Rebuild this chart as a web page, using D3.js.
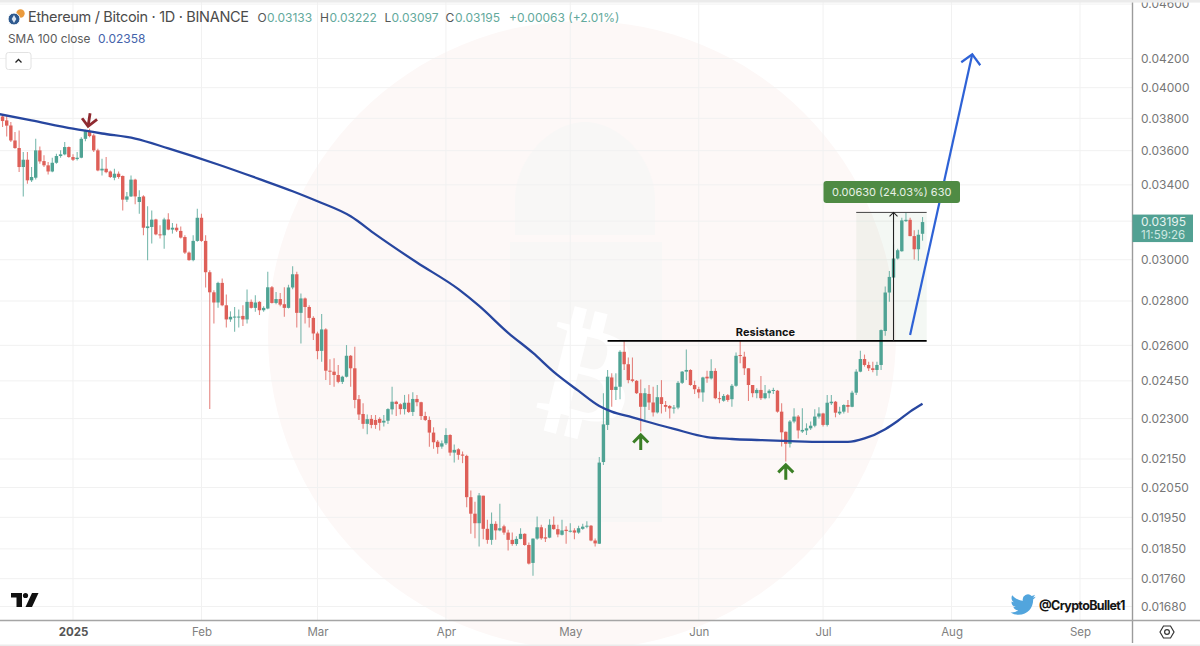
<!DOCTYPE html>
<html>
<head>
<meta charset="utf-8">
<script src="https://cdnjs.cloudflare.com/ajax/libs/d3/7.8.5/d3.min.js"></script>
<style>
  html, body { margin: 0; padding: 0; background: #fff; overflow: hidden; }
  svg { display: block; font-family: Inter, Roboto, sans-serif; }
</style>
</head>
<body>
<script>
const firstCandle = '2024-12-15';
const opens = [
.03812,.03787,.03755,.03662,.03616,.03503,.03546,.03426,.03441,.03602,
.03538,.03513,.03477,.03528,.03568,.03578,.03622,.03562,.03550,.03558,
.03672,.03720,.03693,.03602,.03483,.03493,.03477,.03441,.03464,.03451,
.03317,.03335,.03430,.03304,.03335,.03163,.03169,.03209,.03130,.03125,
.03209,.03155,.03165,.03148,.03116,.03036,.02998,.03096,.03218,.03096,
.02938,.02841,.02793,.02886,.02780,.02715,.02724,.02724,.02731,.02715,
.02796,.02768,.02796,.02757,.02765,.02865,.02791,.02809,.02785,.02768,
.02864,.02928,.02745,.02812,.02772,.02722,.02652,.02576,.02670,.02492,
.02488,.02474,.02446,.02467,.02555,.02502,.02376,.02318,.02280,.02299,
.02295,.02299,.02285,.02292,.02336,.02366,.02356,.02337,.02362,.02326,
.02377,.02364,.02310,.02295,.02247,.02213,.02195,.02207,.02238,.02173,
.02185,.02166,.02161,.02017,.01962,.01931,.02022,.01913,.01878,.01929,
.01908,.01921,.01901,.01878,.01865,.01881,.01897,.01862,.01807,.01882,
.01918,.01886,.01885,.01926,.01912,.01894,.01910,.01904,.01908,.01901,
.01913,.01920,.01923,.01876,.01866,.02139,.02276,.02464,.02413,.02426,
.02572,.02519,.02456,.02450,.02400,.02346,.02397,.02363,.02324,.02384,
.02353,.02349,.02340,.02343,.02442,.02488,.02495,.02433,.02416,.02403,
.02467,.02460,.02491,.02380,.02370,.02392,.02376,.02430,.02558,.02551,
.02502,.02433,.02400,.02413,.02380,.02400,.02409,.02410,.02327,.02250,
.02205,.02289,.02308,.02251,.02255,.02263,.02273,.02308,.02320,.02276,
.02360,.02366,.02320,.02327,.02353,.02346,.02402,.02488,.02541,.02516,
.02502,.02495,.02516,.02663,.02840,.02912,.03006,.03043,.03200,.03207,
.03121,.03053,.03133
];
const highs = [
.03825,.03819,.03777,.03714,.03724,.03592,.03592,.03503,.03672,.03626,
.03572,.03532,.03558,.03582,.03602,.03652,.03625,.03578,.03592,.03682,
.03728,.03734,.03703,.03612,.03552,.03562,.03483,.03493,.03477,.03454,
.03360,.03454,.03435,.03369,.03341,.03280,.03258,.03213,.03178,.03218,
.03243,.03190,.03186,.03172,.03125,.03041,.03125,.03267,.03240,.03125,
.02948,.02851,.02891,.02907,.02830,.02752,.02772,.02760,.02780,.02854,
.02807,.02827,.02799,.02775,.02940,.02871,.02843,.02838,.02865,.02877,
.02968,.02940,.02835,.02816,.02780,.02730,.02660,.02740,.02675,.02540,
.02544,.02516,.02471,.02601,.02558,.02594,.02393,.02360,.02316,.02314,
.02314,.02305,.02314,.02340,.02426,.02370,.02360,.02393,.02396,.02404,
.02393,.02366,.02327,.02308,.02267,.02219,.02217,.02263,.02241,.02203,
.02189,.02177,.02165,.02040,.02002,.02031,.02022,.01942,.01966,.01937,
.01995,.01926,.01910,.01901,.01889,.01915,.01899,.01870,.01882,.01953,
.01926,.01915,.01944,.01953,.01926,.01942,.01921,.01931,.01915,.01923,
.01929,.01937,.01925,.01882,.02157,.02400,.02495,.02481,.02481,.02579,
.02623,.02548,.02548,.02453,.02456,.02420,.02433,.02426,.02433,.02453,
.02369,.02353,.02353,.02449,.02491,.02582,.02498,.02450,.02426,.02467,
.02492,.02540,.02502,.02406,.02397,.02397,.02437,.02569,.02620,.02572,
.02502,.02433,.02420,.02470,.02433,.02416,.02422,.02413,.02360,.02251,
.02295,.02340,.02314,.02340,.02282,.02289,.02336,.02344,.02323,.02393,
.02393,.02369,.02346,.02356,.02373,.02410,.02498,.02576,.02560,.02530,
.02530,.02530,.02670,.02869,.02944,.03079,.03056,.03218,.03245,.03218,
.03151,.03154,.03222
];
const lows = [
.03745,.03687,.03652,.03612,.03474,.03335,.03407,.03416,.03430,.03522,
.03503,.03460,.03473,.03522,.03558,.03572,.03558,.03538,.03542,.03555,
.03658,.03682,.03592,.03479,.03454,.03467,.03439,.03426,.03435,.03258,
.03304,.03332,.03291,.03240,.03125,.02998,.03082,.03125,.03108,.03056,
.03151,.03134,.03142,.03108,.03029,.02995,.02993,.03091,.03091,.02864,
.02337,.02697,.02769,.02775,.02679,.02704,.02660,.02679,.02685,.02697,
.02765,.02750,.02735,.02750,.02762,.02788,.02785,.02775,.02727,.02765,
.02856,.02679,.02608,.02697,.02679,.02623,.02540,.02530,.02453,.02433,
.02426,.02440,.02437,.02464,.02426,.02340,.02295,.02261,.02241,.02263,
.02261,.02255,.02270,.02279,.02316,.02310,.02316,.02316,.02322,.02310,
.02348,.02295,.02291,.02194,.02187,.02169,.02187,.02201,.02162,.02137,
.02147,.02135,.01983,.01897,.01883,.01857,.01880,.01866,.01863,.01878,
.01905,.01894,.01845,.01860,.01860,.01880,.01860,.01802,.01769,.01878,
.01878,.01871,.01883,.01910,.01886,.01892,.01866,.01901,.01880,.01897,
.01910,.01915,.01874,.01857,.01865,.02128,.02257,.02346,.02373,.02376,
.02495,.02440,.02444,.02397,.02251,.02295,.02333,.02308,.02320,.02320,
.02327,.02301,.02320,.02336,.02437,.02453,.02430,.02397,.02380,.02366,
.02442,.02456,.02376,.02360,.02366,.02366,.02346,.02426,.02523,.02474,
.02369,.02384,.02380,.02373,.02376,.02380,.02397,.02323,.02195,.02141,
.02192,.02282,.02225,.02245,.02238,.02257,.02267,.02301,.02270,.02270,
.02353,.02305,.02314,.02320,.02323,.02344,.02393,.02485,.02509,.02491,
.02485,.02471,.02495,.02642,.02796,.02907,.03001,.03040,.03195,.03120,
.03001,.02995,.03097
];
const closes = [
.03783,.03754,.03662,.03616,.03503,.03546,.03426,.03445,.03602,.03536,
.03513,.03477,.03528,.03568,.03578,.03622,.03562,.03546,.03558,.03672,
.03720,.03689,.03602,.03483,.03493,.03473,.03445,.03464,.03445,.03317,
.03335,.03430,.03335,.03332,.03165,.03172,.03208,.03130,.03125,.03209,
.03155,.03165,.03151,.03113,.03036,.02998,.03096,.03218,.03096,.02938,
.02841,.02793,.02886,.02780,.02715,.02727,.02728,.02728,.02715,.02796,
.02768,.02793,.02757,.02768,.02865,.02791,.02809,.02783,.02768,.02864,
.02928,.02745,.02812,.02772,.02722,.02652,.02575,.02670,.02492,.02488,
.02474,.02446,.02467,.02555,.02502,.02373,.02316,.02280,.02298,.02276,
.02276,.02284,.02292,.02337,.02366,.02357,.02337,.02362,.02326,.02377,
.02364,.02310,.02295,.02247,.02211,.02193,.02207,.02238,.02173,.02183,
.02165,.02162,.02017,.01962,.01931,.02023,.01913,.01878,.01929,.01908,
.01915,.01901,.01878,.01865,.01881,.01897,.01862,.01805,.01882,.01918,
.01883,.01882,.01926,.01912,.01895,.01908,.01906,.01907,.01901,.01915,
.01920,.01923,.01876,.01867,.02137,.02278,.02467,.02413,.02426,.02572,
.02519,.02453,.02450,.02400,.02346,.02400,.02363,.02324,.02384,.02357,
.02346,.02340,.02343,.02442,.02488,.02495,.02433,.02416,.02403,.02464,
.02460,.02491,.02380,.02376,.02389,.02373,.02430,.02555,.02554,.02502,
.02433,.02400,.02413,.02380,.02400,.02410,.02413,.02327,.02248,.02205,
.02289,.02308,.02255,.02257,.02263,.02273,.02308,.02320,.02276,.02362,
.02366,.02323,.02327,.02353,.02346,.02402,.02488,.02541,.02516,.02502,
.02495,.02516,.02667,.02840,.02915,.03006,.03048,.03204,.03207,.03121,
.03053,.03128,.03195
];

const smaDates = ['2024-12-14','2024-12-22','2025-01-01','2025-01-08','2025-01-16','2025-01-24','2025-02-05','2025-02-15','2025-02-23','2025-03-01','2025-03-09','2025-03-15','2025-03-25','2025-04-04','2025-04-09','2025-04-16','2025-04-22','2025-04-27','2025-05-03','2025-05-08','2025-05-11','2025-05-16','2025-05-19','2025-05-26','2025-06-03','2025-06-09','2025-06-16','2025-06-23','2025-07-01','2025-07-07','2025-07-11','2025-07-16','2025-07-19','2025-07-22','2025-07-25'];
const smaValues = [.03828,.03787,.03735,.03705,.03674,.03614,.03518,.03433,.03364,.03308,.03226,.03130,.02986,.02856,.02777,.02655,.02567,.02487,.02409,.02349,.02327,.02305,.02291,.02261,.02230,.02223,.02219,.02215,.02212,.02212,.02225,.02260,.02291,.02327,.02358];

const priceTicks = [.046,.042,.04,.038,.036,.034,.03,.028,.026,.0245,.023,.0215,.0205,.0195,.0185,.0176,.0168];
const gridPrices = priceTicks.concat([.032]);
const monthDates = ['2025-01-01','2025-02-01','2025-03-01','2025-04-01','2025-05-01','2025-06-01','2025-07-01','2025-08-01','2025-09-01'];
const monthLabels = ['2025','Feb','Mar','Apr','May','Jun','Jul','Aug','Sep'];

const legendLabels = ['O','H','L','C'];
const legendValues = ['0.03133','0.03222','0.03097','0.03195'];

const resistancePrice = .02619;
const resistanceDates = ['2025-05-10','2025-07-26'];
const measureTop = .03247;
const measureDates = ['2025-07-09','2025-07-26'];
const measureArrowDate = '2025-07-18';
const projDates = ['2025-07-22','2025-08-06'];
const projPrices = [.02645,.04230];
const greenArrowDates = ['2025-05-18','2025-06-22'];
const greenArrowPrices = [.02238,.02129];

const w = 1200;
const h = 646;
const axisX = 1132.5;
const axisY = 620.5;
const parse = d3.utcParse('%Y-%m-%d');

const xScale = d3.scaleUtc().domain([parse('2025-01-01'), parse('2025-09-01')]).range([73, 1080]);
const yScale = d3.scaleLog().domain([.0168, .042]).range([606.5, 58.5]);

const candles = opens.map((o, i) => ({
  date: d3.utcDay.offset(parse(firstCandle), i), o: o, h: highs[i], l: lows[i], c: closes[i]
}));

const svg = d3.select('body').append('svg').attr('width', w).attr('height', h);
const defs = svg.append('defs');
defs.append('clipPath').attr('id', 'pane').append('rect').attr('x', 0).attr('y', 0).attr('width', axisX).attr('height', axisY);

svg.append('rect').attr('width', w).attr('height', h).attr('fill', '#fff');

// background watermark
const mark = svg.append('g').attr('clip-path', 'url(#pane)');
svg.insert('circle', 'g').attr('cx', 582).attr('cy', 335).attr('r', 314).attr('fill', '#fdf8f7');
mark.append('path')
    .attr('d', 'M515,235 L515,200 C515,160 550,122 585,122 C620,122 655,160 655,200 L655,235 Z')
    .attr('fill', '#f8f7f6');
mark.append('rect').attr('x', 510).attr('y', 242).attr('width', 152).attr('height', 280).attr('fill', '#f8f7f6');
mark.append('text').text('\u20BF')
    .attr('transform', 'translate(578,418) rotate(14)')
    .attr('text-anchor', 'middle')
    .style('font-family', "'DejaVu Sans'").style('font-weight', 'bold').style('font-size', '135px')
    .attr('fill', '#fff');

// grid
const grid = svg.append('g').attr('clip-path', 'url(#pane)');
grid.selectAll('.h').data(gridPrices).enter().append('line')
    .attr('x1', 0).attr('x2', axisX)
    .attr('y1', d => yScale(d)).attr('y2', d => yScale(d))
    .attr('stroke', '#f1f1f1').attr('stroke-width', 1);
grid.selectAll('.v').data(monthDates).enter().append('line')
    .attr('x1', d => xScale(parse(d))).attr('x2', d => xScale(parse(d)))
    .attr('y1', 0).attr('y2', axisY)
    .attr('stroke', '#f1f1f1').attr('stroke-width', 1);

const chart = svg.append('g').attr('clip-path', 'url(#pane)');

// measure tool background
chart.append('rect')
    .attr('x', xScale(parse(measureDates[0]))).attr('y', yScale(measureTop))
    .attr('width', xScale(parse(measureDates[1])) - xScale(parse(measureDates[0])))
    .attr('height', yScale(resistancePrice) - yScale(measureTop))
    .attr('fill', '#4c8c46').attr('fill-opacity', 0.06);

// candles
const up = '#4fa394';
const down = '#de5f58';
chart.selectAll('.wick').data(candles).enter().append('line')
    .attr('x1', d => xScale(d.date)).attr('x2', d => xScale(d.date))
    .attr('y1', d => yScale(d.h)).attr('y2', d => yScale(d.l))
    .attr('stroke', d => d.c >= d.o ? up : down)
    .attr('stroke-opacity', 0.75)
    .attr('stroke-width', 1.1);
chart.selectAll('.body').data(candles).enter().append('rect')
    .attr('x', d => xScale(d.date) - 1.7)
    .attr('width', 3.4)
    .attr('y', d => yScale(Math.max(d.o, d.c)))
    .attr('height', d => Math.max(1, Math.abs(yScale(d.o) - yScale(d.c))))
    .attr('fill', d => d.c >= d.o ? up : down);

// SMA 100
const smaLine = d3.line().x(d => xScale(parse(d[0]))).y(d => yScale(d[1])).curve(d3.curveMonotoneX);
chart.append('path')
    .attr('d', smaLine(smaDates.map((d, i) => [d, smaValues[i]])))
    .attr('fill', 'none').attr('stroke', '#27469f').attr('stroke-width', 2.3);

// resistance
chart.append('line')
    .attr('x1', xScale(parse(resistanceDates[0]))).attr('x2', xScale(parse(resistanceDates[1])))
    .attr('y1', yScale(resistancePrice)).attr('y2', yScale(resistancePrice))
    .attr('stroke', '#000').attr('stroke-width', 1.8);
chart.append('text').text('Resistance')
    .attr('x', 765.5).attr('y', yScale(resistancePrice) - 5)
    .attr('text-anchor', 'middle')
    .style('font-size', '11px').style('font-weight', '700').attr('fill', '#111');

// measure tool
chart.append('line')
    .attr('x1', xScale(parse(measureDates[0]))).attr('x2', xScale(parse(measureDates[1])))
    .attr('y1', yScale(measureTop)).attr('y2', yScale(measureTop))
    .attr('stroke', '#444').attr('stroke-width', 1);
const mx = xScale(parse(measureArrowDate));
chart.append('line')
    .attr('x1', mx).attr('x2', mx)
    .attr('y1', yScale(resistancePrice)).attr('y2', yScale(measureTop))
    .attr('stroke', '#222').attr('stroke-width', 1.1);
chart.append('path')
    .attr('d', d3.line()([[mx - 4, yScale(measureTop) + 4], [mx, yScale(measureTop)], [mx + 4, yScale(measureTop) + 4]]))
    .attr('fill', 'none').attr('stroke', '#222').attr('stroke-width', 1.1);

// projection arrow
const px0 = xScale(parse(projDates[0])), px1 = xScale(parse(projDates[1]));
const py0 = yScale(projPrices[0]), py1 = yScale(projPrices[1]);
chart.append('line')
    .attr('x1', px0).attr('y1', py0).attr('x2', px1).attr('y2', py1)
    .attr('stroke', '#2e62d6').attr('stroke-width', 2.2);
chart.append('path')
    .attr('d', d3.line()([[px1 - 11, py1 + 8], [px1, py1], [px1 + 8, py1 + 11]]))
    .attr('fill', 'none').attr('stroke', '#2e62d6').attr('stroke-width', 2.2);

// measure label sits over the projection line
chart.append('rect')
    .attr('x', 823.5).attr('y', 181).attr('width', 136.5).attr('height', 22).attr('rx', 3)
    .attr('fill', '#4f8b44');
chart.append('text').text('0.00630 (24.03%) 630')
    .attr('x', 891.7).attr('y', 196).attr('text-anchor', 'middle')
    .style('font-size', '11px').attr('fill', '#e8f1e6');

// green arrows under the two lows
greenArrowDates.forEach((d, i) => {
  const ax = xScale(parse(d));
  const ay = yScale(greenArrowPrices[i]);
  chart.append('path')
      .attr('d', `M${ax},${ay} V${ay + 15} M${ax - 7.5},${ay + 7.5} L${ax},${ay} L${ax + 7.5},${ay + 7.5}`)
      .attr('fill', 'none').attr('stroke', '#3b7f26').attr('stroke-width', 3);
});

// red arrow on the top
const rx = xScale(parse('2025-01-05')) - 1.5;
const ry = yScale(.03750);
chart.append('path')
    .attr('d', `M${rx + 2},${ry - 13} L${rx},${ry} M${rx - 6},${ry - 8} L${rx},${ry} L${rx + 9},${ry - 7}`)
    .attr('fill', 'none').attr('stroke', '#8f2a30').attr('stroke-width', 2.8);

// axes
const yAxis = d3.axisRight(yScale).tickValues(priceTicks).tickFormat(d3.format('.5f')).tickSize(0).tickPadding(8.5);
const yg = svg.append('g').attr('transform', `translate(${axisX},0)`).call(yAxis);
yg.select('.domain').remove();
yg.selectAll('text').style('font-family', 'Inter, Roboto, sans-serif').style('font-size', '12px').attr('fill', '#777');

const xAxis = d3.axisBottom(xScale).tickValues(monthDates.map(parse)).tickFormat((d, i) => monthLabels[i]).tickSize(0).tickPadding(7);
const xg = svg.append('g').attr('transform', `translate(0,${axisY})`).call(xAxis);
xg.select('.domain').remove();
xg.selectAll('text').style('font-family', 'Inter, Roboto, sans-serif').style('font-size', '11.5px').attr('fill', '#808080');
xg.selectAll('text').filter((d, i) => i === 0).style('font-weight', '700').attr('fill', '#555');

svg.append('line').attr('x1', axisX).attr('x2', axisX).attr('y1', 0).attr('y2', 643).attr('stroke', '#9b9b9b').attr('stroke-width', 1.4);
svg.append('line').attr('x1', 0).attr('x2', w).attr('y1', axisY).attr('y2', axisY).attr('stroke', '#a5a5a5').attr('stroke-width', 1.4);

// last price label
const lastY = yScale(closes[closes.length - 1]);
svg.append('rect').attr('x', axisX).attr('y', lastY - 7.5).attr('width', 60.5).attr('height', 27.5).attr('fill', '#52a193');
svg.append('text').text('0.03195').attr('x', 1141).attr('y', lastY + 4.2).style('font-size', '12px').attr('fill', '#e6f3f0');
svg.append('text').text('11:59:26').attr('x', 1141).attr('y', lastY + 16.5).style('font-size', '11.5px').attr('fill', '#cfe8e2');

// top and bottom window edges
svg.append('rect').attr('width', w).attr('height', 2.6).attr('fill', '#ebebeb');
svg.append('rect').attr('y', 644.5).attr('width', w).attr('height', 1.5).attr('fill', '#ebebeb');

// legend
svg.append('circle').attr('cx', 20.5).attr('cy', 13.5).attr('r', 4.2).attr('fill', '#ea9a3c');
svg.append('circle').attr('cx', 14).attr('cy', 19).attr('r', 6).attr('stroke', '#fff').attr('fill', '#2f5a8f');
svg.append('path').attr('d', 'M14,15 L16.3,19 L14,23 L11.7,19 Z').attr('fill', '#dfe8f4');
svg.append('text').text('Ethereum / Bitcoin \u00B7 1D \u00B7 BINANCE')
    .attr('x', 28).attr('y', 22).attr('textLength', 221)
    .style('font-size', '14.5px').attr('fill', '#4b4b4b');
const legendX = [257.5, 320, 384.5, 445.5];
legendLabels.forEach((t, i) => {
  svg.append('text').text(t).attr('x', legendX[i]).attr('y', 21.5).style('font-size', '12px').attr('fill', '#555');
  svg.append('text').text(legendValues[i]).attr('x', legendX[i] + (i === 2 ? 7 : 9.5)).attr('y', 21.5).style('font-size', '12px').attr('fill', '#63a99c');
});
svg.append('text').text('+0.00063 (+2.01%)').attr('x', 509).attr('y', 21.5).style('font-size', '12px').attr('fill', '#63a99c');
svg.append('text').text('SMA 100 close').attr('x', 8).attr('y', 43).style('font-size', '11.8px').attr('fill', '#5a5a5a');
svg.append('text').text('0.02358').attr('x', 98).attr('y', 43).style('font-size', '12px').attr('fill', '#4463ab');

svg.append('rect').attr('x', 6).attr('y', 52.5).attr('width', 25).attr('height', 17).attr('rx', 2.5)
    .attr('fill', '#fff').attr('stroke', '#e2e2e2');
svg.append('path').attr('d', 'M15.5,62.5 L18.5,59.5 L21.5,62.5').attr('fill', 'none').attr('stroke', '#222').attr('stroke-width', 1.3);

// TradingView mark
svg.append('path').attr('d', 'M11,593 H22 V607 H16.5 V597.5 H11 Z').attr('fill', '#111');
svg.append('circle').attr('cx', 25.5).attr('cy', 595.5).attr('r', 2.6).attr('fill', '#111');
svg.append('path').attr('d', 'M32,593 H38.5 L32,607 H25.5 Z').attr('fill', '#111');

// twitter handle
svg.append('path')
    .attr('transform', 'translate(1010.5,592) scale(1.05)')
    .attr('d', 'M23.953 4.57a10 10 0 01-2.825.775 4.958 4.958 0 002.163-2.723c-.951.555-2.005.959-3.127 1.184a4.92 4.92 0 00-8.384 4.482C7.69 8.095 4.067 6.13 1.64 3.162a4.822 4.822 0 00-.666 2.475c0 1.71.87 3.213 2.188 4.096a4.904 4.904 0 01-2.228-.616v.06a4.923 4.923 0 003.946 4.827 4.996 4.996 0 01-2.212.085 4.936 4.936 0 004.604 3.417 9.867 9.867 0 01-6.102 2.105c-.39 0-.779-.023-1.17-.067a13.995 13.995 0 007.557 2.209c9.053 0 13.998-7.496 13.998-13.985 0-.21 0-.42-.015-.63A9.935 9.935 0 0024 4.59z')
    .attr('fill', '#52a5dd');
svg.append('text').text('@CryptoBullet1')
    .attr('x', 1039).attr('y', 609.5).attr('textLength', 86.5)
    .style('font-size', '12.5px').style('font-weight', '700').attr('fill', '#151515');

// settings icon
svg.append('path')
    .attr('d', 'M1160,632 L1163.5,626 H1170.5 L1174,632 L1170.5,638 H1163.5 Z')
    .attr('fill', 'none').attr('stroke', '#333').attr('stroke-width', 1.2);
svg.append('circle').attr('cx', 1167).attr('cy', 632).attr('r', 2.4).attr('fill', 'none').attr('stroke', '#333').attr('stroke-width', 1.2);
</script>
</body>
</html>
